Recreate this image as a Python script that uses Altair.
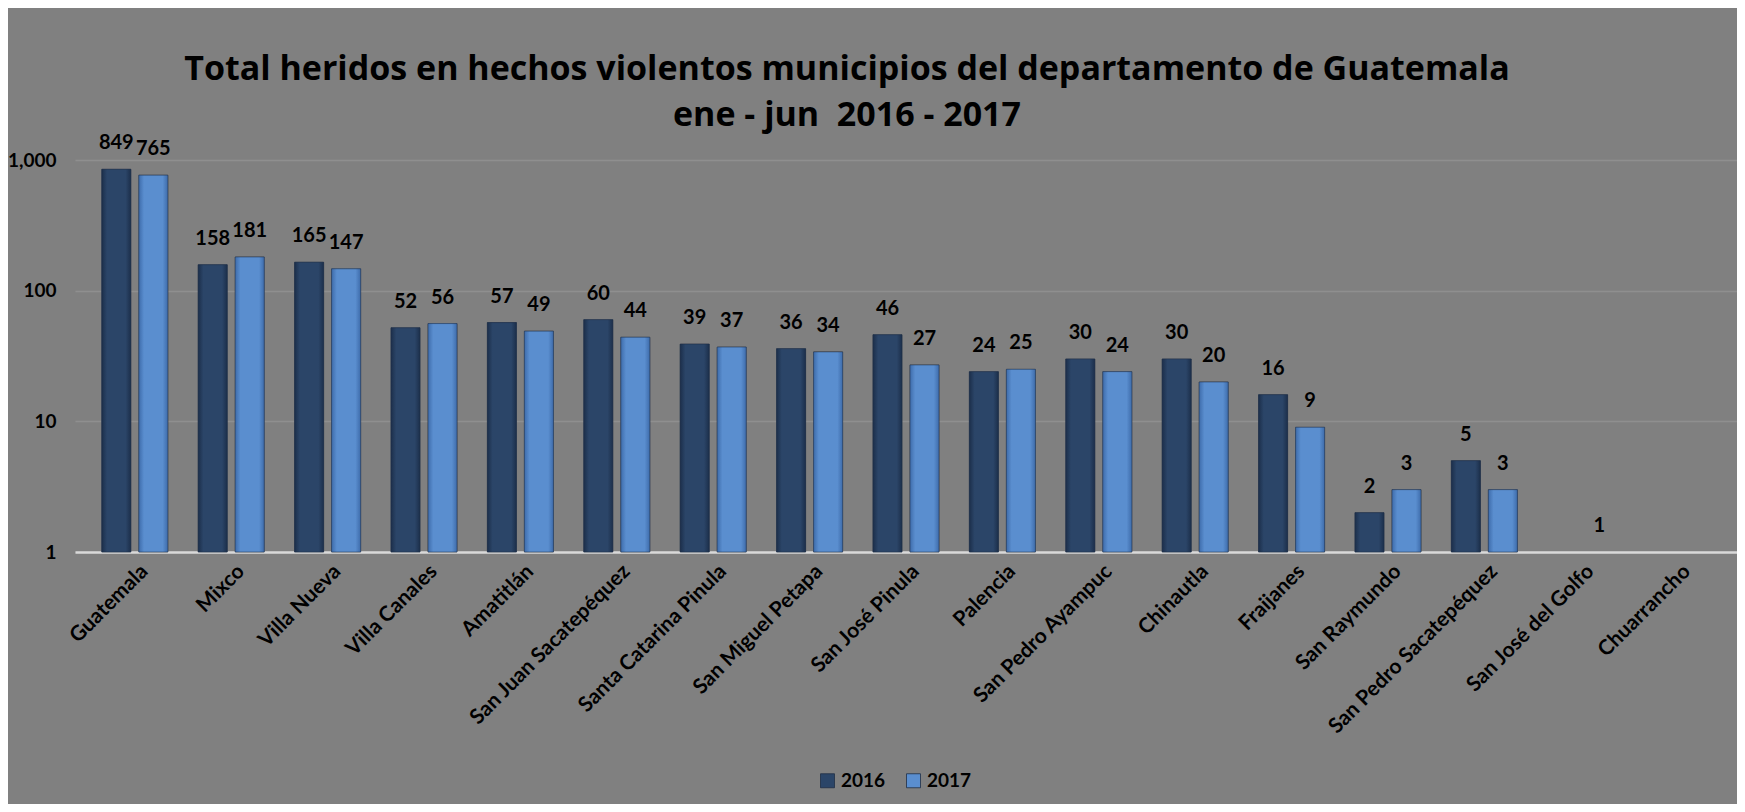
import altair as alt
import pandas as pd

municipios = ["Guatemala", "Mixco", "Villa Nueva", "Villa Canales", "Amatitlán",
              "San Juan Sacatepéquez", "Santa Catarina Pinula", "San Miguel Petapa",
              "San José Pinula", "Palencia", "San Pedro Ayampuc", "Chinautla",
              "Fraijanes", "San Raymundo", "San Pedro Sacatepéquez",
              "San José del Golfo", "Chuarrancho"]
v2016 = [849, 158, 165, 52, 57, 60, 39, 36, 46, 24, 30, 30, 16, 2, 5, None, None]
v2017 = [765, 181, 147, 56, 49, 44, 37, 34, 27, 25, 24, 20, 9, 3, 3, 1, None]
years = ["2016", "2017"]
colors = ["#2b4568", "#5a8ecf"]
edge_colors = ["#1c2f4b", "#3e6cab"]

rows = []
for m, a, b in zip(municipios, v2016, v2017):
    if a is not None:
        rows.append({"municipio": m, "anio": "2016", "valor": a})
    if b is not None:
        rows.append({"municipio": m, "anio": "2017", "valor": b})
df = pd.DataFrame(rows)

FONT = "Lato"

x = alt.X("municipio:N", sort=municipios,
          scale=alt.Scale(domain=municipios, paddingInner=0.315, paddingOuter=0.278),
          axis=alt.Axis(title=None, labelAngle=-45, labelAlign="right", labelBaseline="middle",
                        labelFont=FONT, labelFontSize=21, labelFontWeight="bold",
                        labelColor="black", labelPadding=16, labelOffset=10, ticks=False,
                        domainColor="#d9d9d9", domainWidth=2.5, grid=False,
                        labelLimit=400))
xo = alt.XOffset("anio:N", scale=alt.Scale(domain=years, paddingInner=0.216, paddingOuter=0))
y = alt.Y("valor:Q",
          scale=alt.Scale(type="log", domain=[1, 1000]),
          axis=alt.Axis(title=None, values=[1, 10, 100, 1000], format=",",
                        labelFont=FONT, labelFontSize=19, labelFontWeight="bold",
                        labelColor="black", labelPadding=19, ticks=False, domain=False,
                        gridColor="#8f8f8f", gridWidth=1.5))

base_bars = alt.Chart(df).transform_filter("datum.valor > 1").mark_bar(
    stroke="#1f2f45", strokeWidth=0.8, strokeOpacity=0.6
).encode(
    x=x, xOffset=xo, y=y, y2=alt.datum(1),
    color=alt.Color("anio:N", scale=alt.Scale(domain=years, range=colors),
                    legend=alt.Legend(title=None, orient="none", legendX=743, legendY=611,
                                      direction="horizontal", symbolType="square",
                                      symbolSize=196, symbolStrokeColor="#1f2f45",
                                      symbolStrokeWidth=0.8,
                                      labelFont=FONT, labelFontSize=19,
                                      labelFontWeight="bold", labelColor="black",
                                      labelOffset=4, columnPadding=18))
)


def shaded(year, main, edge):
    grad = alt.LinearGradient(
        gradient="linear", x1=0, x2=1, y1=0, y2=0,
        stops=[alt.GradientStop(color=edge, offset=0),
               alt.GradientStop(color=main, offset=0.18),
               alt.GradientStop(color=main, offset=0.82),
               alt.GradientStop(color=edge, offset=1)])
    return alt.Chart(df).transform_filter(
        f"datum.valor > 1 && datum.anio == '{year}'"
    ).mark_bar(fill=grad, stroke="#1f2f45", strokeWidth=0.8, strokeOpacity=0.6).encode(
        x=x, xOffset=xo, y=y, y2=alt.datum(1))


shade16 = shaded(years[0], colors[0], edge_colors[0])
shade17 = shaded(years[1], colors[1], edge_colors[1])

labels = alt.Chart(df).mark_text(
    dy=-26, font=FONT, fontSize=20, fontWeight="bold", color="black", baseline="middle"
).encode(x=x, xOffset=xo, y=y, text=alt.Text("valor:Q", format=","))

chart = alt.layer(base_bars, shade16, shade17, labels).properties(
    width=1662, height=392,
    title=alt.TitleParams(
        ["Total heridos en hechos violentos municipios del departamento de Guatemala",
         "ene - jun \u00a02016 - 2017"],
        font="Open Sans", fontSize=34, fontWeight="bold", color="black",
        lineHeight=46, anchor="middle", frame="group", dx=-59, offset=0),
    autosize=alt.AutoSizeParams(type="none"),
    padding={"left": 67, "top": 152, "right": 0, "bottom": 252},
    background="#808080",
).configure_view(stroke=None)

chart.save("out.html", embed_options={"renderer": "svg", "actions": False})
